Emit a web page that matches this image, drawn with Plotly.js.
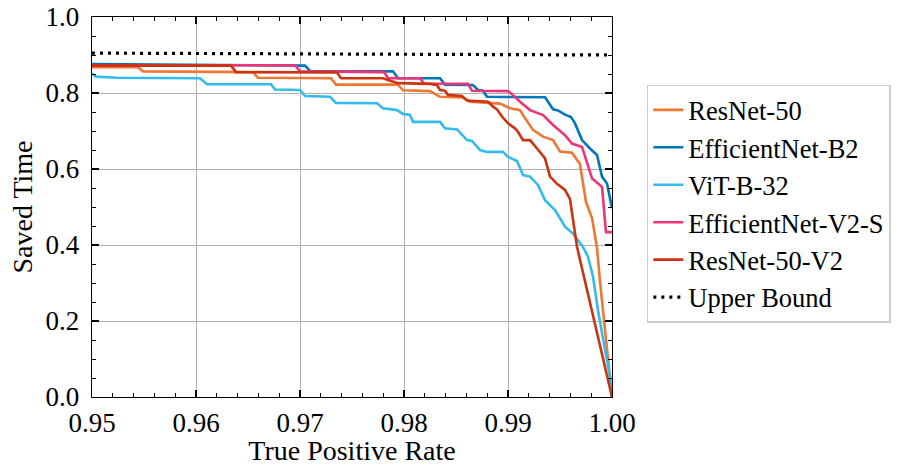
<!DOCTYPE html>
<html>
<head>
<meta charset="utf-8">
<script src="https://cdn.plot.ly/plotly-3.0.1.min.js"></script>
<style>html,body{margin:0;padding:0;background:#fff;}#chart{width:897px;height:466px;}</style>
</head>
<body>
<div id="chart"></div>
<script>
// ---- data ----
const seriesNames = ["ResNet-50", "EfficientNet-B2", "ViT-B-32", "EfficientNet-V2-S", "ResNet-50-V2", "Upper Bound"];

const resnet50_x = [0.95, 0.95442, 0.95490, 0.96548, 0.96596, 0.97298, 0.97346, 0.97942, 0.97990, 0.98250, 0.98346, 0.98567, 0.98635, 0.98923, 0.99019, 0.99115, 0.99163, 0.99240, 0.99337, 0.99433, 0.99500, 0.99615, 0.99692, 0.99750, 0.99808, 0.99856, 0.99885, 0.99933, 0.99981, 1.0];
const resnet50_y = [0.868, 0.868, 0.857, 0.855, 0.840, 0.839, 0.822, 0.822, 0.807, 0.805, 0.790, 0.788, 0.777, 0.772, 0.760, 0.755, 0.734, 0.703, 0.685, 0.676, 0.646, 0.643, 0.613, 0.513, 0.471, 0.392, 0.303, 0.184, 0.058, 0.0];

const effb2_x = [0.95, 0.97048, 0.97096, 0.97894, 0.97942, 0.98346, 0.98394, 0.98663, 0.98712, 0.98760, 0.98798, 0.99356, 0.99433, 0.99481, 0.99548, 0.99606, 0.99644, 0.99712, 0.99788, 0.99856, 0.99904, 0.99952, 1.0];
const effb2_y = [0.876, 0.872, 0.858, 0.857, 0.839, 0.839, 0.822, 0.821, 0.808, 0.806, 0.790, 0.789, 0.757, 0.754, 0.743, 0.737, 0.720, 0.676, 0.654, 0.637, 0.580, 0.562, 0.497];

const vit_x = [0.95, 0.95038, 0.95240, 0.96038, 0.96106, 0.96721, 0.96760, 0.97000, 0.97048, 0.97288, 0.97346, 0.97740, 0.97798, 0.97933, 0.97990, 0.98058, 0.98087, 0.98346, 0.98394, 0.98510, 0.98606, 0.98654, 0.98731, 0.98798, 0.98952, 0.99000, 0.99087, 0.99115, 0.99144, 0.99212, 0.99288, 0.99356, 0.99452, 0.99548, 0.99625, 0.99721, 0.99769, 0.99817, 0.99865, 0.99933, 0.99981, 1.0];
const vit_y = [0.851, 0.843, 0.840, 0.839, 0.823, 0.823, 0.809, 0.808, 0.792, 0.790, 0.774, 0.773, 0.760, 0.755, 0.745, 0.742, 0.724, 0.724, 0.707, 0.704, 0.676, 0.674, 0.650, 0.645, 0.645, 0.632, 0.621, 0.603, 0.584, 0.580, 0.558, 0.518, 0.492, 0.448, 0.430, 0.395, 0.369, 0.317, 0.229, 0.124, 0.053, 0.0];

const effv2s_x = [0.95, 0.96952, 0.97000, 0.97808, 0.97846, 0.98154, 0.98192, 0.98615, 0.98654, 0.99000, 0.99038, 0.99115, 0.99212, 0.99337, 0.99433, 0.99548, 0.99615, 0.99712, 0.99808, 0.99904, 0.99942, 1.0];
const effv2s_y = [0.873, 0.873, 0.857, 0.855, 0.839, 0.839, 0.825, 0.824, 0.806, 0.805, 0.797, 0.777, 0.755, 0.742, 0.716, 0.689, 0.667, 0.658, 0.575, 0.553, 0.434, 0.434];

const resnet50v2_x = [0.95, 0.96337, 0.96385, 0.97356, 0.97394, 0.97798, 0.97846, 0.97942, 0.98250, 0.98317, 0.98346, 0.98394, 0.98423, 0.98558, 0.98606, 0.98808, 0.98856, 0.98894, 0.98942, 0.99000, 0.99067, 0.99096, 0.99144, 0.99212, 0.99279, 0.99356, 0.99404, 0.99471, 0.99548, 0.99596, 0.99663, 0.99692, 1.0];
const resnet50v2_y = [0.872, 0.872, 0.855, 0.854, 0.839, 0.839, 0.834, 0.826, 0.824, 0.821, 0.808, 0.806, 0.795, 0.792, 0.780, 0.777, 0.764, 0.757, 0.738, 0.720, 0.707, 0.698, 0.676, 0.676, 0.654, 0.628, 0.580, 0.561, 0.545, 0.521, 0.396, 0.361, 0.0];

const upper_x = [0.95, 0.975, 1.0];
const upper_y = [0.905, 0.9025, 0.900];

const xTickVals = [0.95, 0.96, 0.97, 0.98, 0.99, 1.00];
const xTickText = ["0.95", "0.96", "0.97", "0.98", "0.99", "1.00"];
const yTickVals = [0.0, 0.2, 0.4, 0.6, 0.8, 1.0];
const yTickText = ["0.0", "0.2", "0.4", "0.6", "0.8", "1.0"];

const colors = ["#EE7733", "#0077BB", "#33BBEE", "#EE3377", "#CC3311", "#000000"];

// ---- traces ----
const xs = [resnet50_x, effb2_x, vit_x, effv2s_x, resnet50v2_x, upper_x];
const ys = [resnet50_y, effb2_y, vit_y, effv2s_y, resnet50v2_y, upper_y];
const traces = seriesNames.map((n, i) => ({
  type: "scatter",
  mode: "lines",
  name: n,
  x: xs[i],
  y: ys[i],
  legendgroup: "g" + i,
  line: {color: colors[i], width: i === 5 ? 3.2 : 2.6, dash: i === 5 ? "3px,5px" : "solid"},
  hoverinfo: "skip"
}));

const FONT = '"Liberation Serif", "DejaVu Serif", serif';
const axisCommon = {
  showline: true, linecolor: "#000", linewidth: 1.3, mirror: "ticks",
  ticks: "inside", ticklen: 7, tickwidth: 1.2, tickcolor: "#000",
  showgrid: true, gridcolor: "#b0b0b0", gridwidth: 1,
  zeroline: false,
  tickfont: {family: FONT, size: 27, color: "#000"}
};

const layout = {
  width: 897, height: 466,
  margin: {l: 92, r: 285, t: 17, b: 69, autoexpand: false},
  paper_bgcolor: "#fff", plot_bgcolor: "#fff",
  font: {family: FONT, size: 27, color: "#000"},
  showlegend: true,
  legend: {
    x: 1.067, y: 0.822, xanchor: "left", yanchor: "top",
    bgcolor: "#fff", bordercolor: "#cccccc", borderwidth: 1.5,
    font: {family: FONT, size: 26.5, color: "#000"},
    tracegroupgap: 0, itemwidth: 30
  },
  xaxis: Object.assign({}, axisCommon, {
    range: [0.95, 1.0], automargin: false,
    tickmode: "array", tickvals: xTickVals, ticktext: xTickText,
    minor: {ticks: "inside", ticklen: 4, tickwidth: 1, tickcolor: "#000", dtick: 0.002, tick0: 0.95, showgrid: false},
    ticklabelstandoff: 1,
    title: {text: "True Positive Rate", font: {family: FONT, size: 28, color: "#000"}, standoff: 6}
  }),
  yaxis: Object.assign({}, axisCommon, {
    range: [0, 1.0], automargin: false,
    tickmode: "array", tickvals: yTickVals, ticktext: yTickText,
    minor: {ticks: "inside", ticklen: 4, tickwidth: 1, tickcolor: "#000", dtick: 0.05, tick0: 0, showgrid: false},
    ticklabelstandoff: 6,
    title: {text: "Saved Time", font: {family: FONT, size: 28, color: "#000"}, standoff: 4}
  })
};

Plotly.newPlot("chart", traces, layout, {displayModeBar: false, staticPlot: true});
</script>
</body>
</html>
